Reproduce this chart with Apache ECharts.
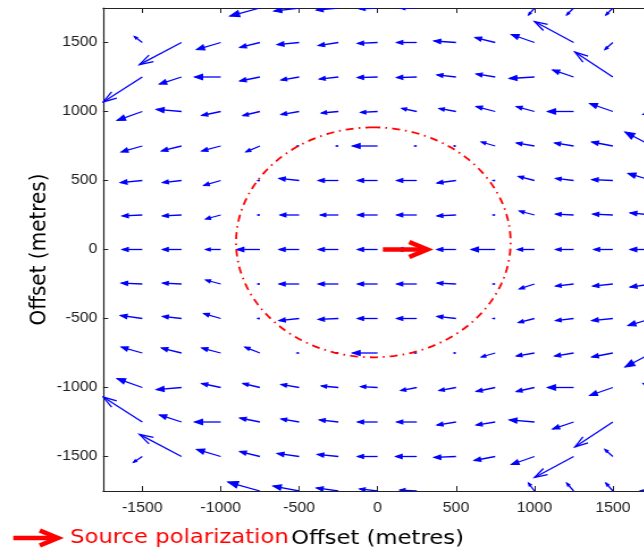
<!DOCTYPE html>
<html>
<head>
<meta charset="utf-8">
<script src="https://cdn.jsdelivr.net/npm/echarts@6.0.0/dist/echarts.min.js"></script>
<style>
html, body { margin: 0; padding: 0; background: #fff; overflow: hidden; width: 644px; height: 552px; }
#c { width: 580px; height: 552px; transform: scaleX(1.135); transform-origin: 0 0; }
</style>
</head>
<body>
<div id="c"></div>
<script>
// grid of vector positions (metres)
const xs = [-1500, -1250, -1000, -750, -500, -250, 0, 250, 500, 750, 1000, 1250, 1500, 1750];
const ys = [1750, 1500, 1250, 1000, 750, 500, 250, 0, -250, -500, -750, -1000, -1250, -1500, -1750];
// vector components (metres), one row per y value
const uRows = [
  [0, 0, 0, -191, -160, -140, -115, -108, 0, 0, -38, -45, -45, 0],
  [-51, -268, -153, -128, -140, -128, -128, -128, -140, -128, -147, -249, -51, 0],
  [-249, -140, -166, -128, -115, -121, -128, -128, -121, -121, -160, -134, -242, 0],
  [-160, -160, -121, -108, -115, -108, -108, -96, -108, -121, -115, -166, -147, -57],
  [-134, -128, -121, -89, -13, -13, -160, -13, -13, -89, -115, -121, -134, -172],
  [-140, -121, -108, -13, -128, -128, -128, -128, -121, -13, -102, -115, -134, -153],
  [-128, -121, -96, -13, -121, -115, -128, -128, -121, -13, -96, -115, -128, -140],
  [-128, -121, -96, -147, -128, -128, -128, -128, -121, -153, -108, -115, -121, -140],
  [-134, -121, -96, -13, -128, -128, -128, -128, -121, -13, -96, -115, -128, -140],
  [-140, -121, -108, -13, -128, -128, -128, -128, -121, -13, -102, -115, -134, -153],
  [-134, -128, -121, -96, -13, -13, -160, -13, -13, -89, -115, -121, -134, -172],
  [-160, -160, -121, -108, -115, -108, -108, -102, -108, -121, -115, -166, -147, -57],
  [-249, -140, -166, -128, -115, -121, -128, -128, -121, -121, -160, -134, -242, 0],
  [-57, -268, -153, -128, -140, -134, -128, -134, -140, -134, -147, -249, -51, 0],
  [0, 0, 0, -204, -166, -140, -115, -108, 0, 0, -38, -45, -45, -77]
];
const vRows = [
  [0, 0, 0, -58, -22, -15, -7, 0, 0, 0, -51, -51, -51, 0],
  [43, -160, -51, -36, -15, -22, -7, 0, 11, 36, 58, 152, -51, 0],
  [-181, -51, 0, -29, -22, -15, -4, -4, 15, 22, -11, 51, 181, 0],
  [-65, 15, -29, -29, -22, -11, -7, 22, 22, 36, 36, 0, 58, -22],
  [-43, -36, -36, -43, 0, 0, 0, 0, 0, 29, 22, 22, 29, 101],
  [-15, -15, -36, 0, 15, 0, 0, 0, -18, 0, 29, 15, 7, 51],
  [-7, -7, -29, 0, 0, 0, 0, 0, -7, 0, 29, 7, 7, 15],
  [0, 0, 0, 0, 0, 0, 0, 0, 0, 0, 0, 0, 0, 0],
  [7, 7, 29, 0, 0, 0, 0, 0, 7, 0, -36, -15, -15, -22],
  [22, 15, 36, 0, -15, -7, 0, 0, 15, 0, -29, -15, -15, -51],
  [43, 36, 36, 43, 0, 0, 0, 0, 0, -29, -22, -22, -29, -101],
  [65, -15, 29, 29, 22, 11, 7, -22, -22, -29, -29, 0, -58, 29],
  [181, 51, 0, 29, 22, 15, 0, 0, -22, -22, 15, -51, -181, 0],
  [-43, 160, 51, 36, 22, 15, 0, 0, -7, -29, -58, -152, 51, 0],
  [0, 0, 0, 65, 36, 22, 15, 7, 0, 0, 58, 58, 58, 0]
];
const xTicks = [-1500, -1000, -500, 0, 500, 1000, 1500];
const yTicks = [-1500, -1000, -500, 0, 500, 1000, 1500];
// red dash-dot ellipse: centre x, centre y, radius x, radius y (metres)
const ring = [-27, 52, 875, 833];
// source polarization arrow: tail x, head x, y (metres)
const source = [34, 332, 0];

const quiverData = [];
ys.forEach((y, i) => xs.forEach((x, j) => {
  const u = uRows[i][j], v = vRows[i][j];
  if (u !== 0 || v !== 0) quiverData.push([x, y, u, v]);
}));

function renderQuiver(params, api) {
  const x = api.value(0), y = api.value(1), u = api.value(2), v = api.value(3);
  const p0 = api.coord([x, y]);
  const p1 = api.coord([x + u, y + v]);
  const dx = p1[0] - p0[0], dy = p1[1] - p0[1];
  const L = Math.hypot(dx, dy);
  if (L < 0.01) return null;
  const ux = dx / L, uy = dy / L;
  const small = L < 30;
  const h = small ? 0.3 * L : 0.28 * L, w = small ? 0.38 * h : 0.32 * h;
  const b = [p1[0] - ux * h, p1[1] - uy * h];
  const a1 = [b[0] - uy * w, b[1] + ux * w];
  const a2 = [b[0] + uy * w, b[1] - ux * w];
  const st = { stroke: '#0000ff', fill: null, lineWidth: 1.3 };
  const head = small
    ? { type: 'polygon', shape: { points: [a1, p1, a2] }, style: { stroke: '#0000ff', fill: '#0000ff', lineWidth: 1.1 } }
    : { type: 'polyline', shape: { points: [a1, p1, a2] }, style: st };
  return { type: 'group', children: [
    { type: 'line', shape: { x1: p0[0], y1: p0[1], x2: p1[0], y2: p1[1] }, style: st },
    head
  ]};
}

function renderRing(params, api) {
  const cx = api.value(0), cy = api.value(1), rx = api.value(2), ry = api.value(3);
  const pts = [];
  for (let k = 0; k <= 240; k++) {
    const t = Math.PI / 2 + k / 240 * Math.PI * 2;
    pts.push(api.coord([cx + rx * Math.cos(t), cy + ry * Math.sin(t)]));
  }
  return { type: 'polyline', shape: { points: pts },
    style: { stroke: '#ff0000', fill: null, lineWidth: 1.8, lineDash: [7, 4.5, 1.5, 4.5] } };
}

function renderSource(params, api) {
  const p0 = api.coord([api.value(0), api.value(2)]);
  const p1 = api.coord([api.value(1), api.value(2)]);
  const tip = p1[0] - 2;
  return { type: 'group', children: [
    { type: 'line', shape: { x1: p0[0], y1: p0[1], x2: tip - 3, y2: p1[1] },
      style: { stroke: '#ff0000', lineWidth: 4.5 } },
    { type: 'polyline', shape: { points: [[tip - 16, p1[1] - 7.5], [tip, p1[1]], [tip - 16, p1[1] + 7.5]] },
      style: { stroke: '#ff0000', fill: null, lineWidth: 4.5, lineJoin: 'miter' } }
  ]};
}

const axisCommon = {
  type: 'value', min: -1750, max: 1750,
  axisLine: { show: true, onZero: false, lineStyle: { color: '#222', width: 1.2 } },
  splitLine: { show: false }
};
const plain = v => String(v);

const chart = echarts.init(document.getElementById('c'), null, { renderer: 'canvas' });
chart.setOption({
  animation: false,
  backgroundColor: '#fff',
  grid: { left: 90.8, top: 8, width: 483.7, height: 483, outerBoundsMode: 'none', containLabel: false },
  xAxis: [
    Object.assign({}, axisCommon, {
      position: 'bottom',
      axisTick: { show: true, inside: true, length: 5, customValues: xTicks, lineStyle: { color: '#222', width: 1 } },
      axisLabel: { show: true, customValues: xTicks, formatter: plain, color: '#222', fontFamily: 'Liberation Sans', fontSize: 14, margin: 10 },
      name: 'Offset (metres)', nameLocation: 'middle', nameGap: 38,
      nameTextStyle: { fontFamily: 'DejaVu Sans', fontSize: 20, color: '#000' }
    }),
    Object.assign({}, axisCommon, {
      position: 'top',
      axisTick: { show: true, inside: true, length: 5, customValues: xTicks, lineStyle: { color: '#222', width: 1 } },
      axisLabel: { show: false }
    })
  ],
  yAxis: [
    Object.assign({}, axisCommon, {
      position: 'left',
      axisTick: { show: true, inside: true, length: 4.5, customValues: yTicks, lineStyle: { color: '#222', width: 1 } },
      axisLabel: { show: true, customValues: yTicks, formatter: plain, color: '#222', fontFamily: 'Liberation Sans', fontSize: 14, margin: 5 },
      name: 'Offset (metres)', nameLocation: 'middle', nameGap: 46, nameRotate: 90, nameMoveOverlap: false,
      nameTextStyle: { fontFamily: 'DejaVu Sans', fontSize: 20, color: '#000' }
    }),
    Object.assign({}, axisCommon, {
      position: 'right',
      axisTick: { show: true, inside: true, length: 4.5, customValues: yTicks, lineStyle: { color: '#222', width: 1 } },
      axisLabel: { show: false }
    })
  ],
  series: [
    { type: 'custom', name: 'field', xAxisIndex: 0, yAxisIndex: 0, clip: true, silent: true,
      encode: { x: 0, y: 1 }, renderItem: renderQuiver, data: quiverData, z: 2 },
    { type: 'custom', name: 'ring', xAxisIndex: 0, yAxisIndex: 0, clip: true, silent: true,
      encode: { x: 0, y: 1 }, renderItem: renderRing, data: [ring], z: 3 },
    { type: 'custom', name: 'Source polarization', xAxisIndex: 0, yAxisIndex: 0, clip: true, silent: true,
      encode: { x: 0, y: 2 }, renderItem: renderSource, data: [source], z: 4 }
  ],
  graphic: [
    { type: 'line', shape: { x1: 11.7, y1: 538, x2: 48, y2: 538 }, style: { stroke: '#ff0000', lineWidth: 4.5 } },
    { type: 'polyline', shape: { points: [[35, 530.5], [51, 538], [35, 545.5]] },
      style: { stroke: '#ff0000', fill: null, lineWidth: 4.5, lineJoin: 'miter' } },
    { type: 'text', x: 61.7, y: 538, style: { text: 'Source polarization', fill: '#ff0000',
      font: '20px "DejaVu Sans"', textVerticalAlign: 'middle', verticalAlign: 'middle' } }
  ]
});
</script>
</body>
</html>
